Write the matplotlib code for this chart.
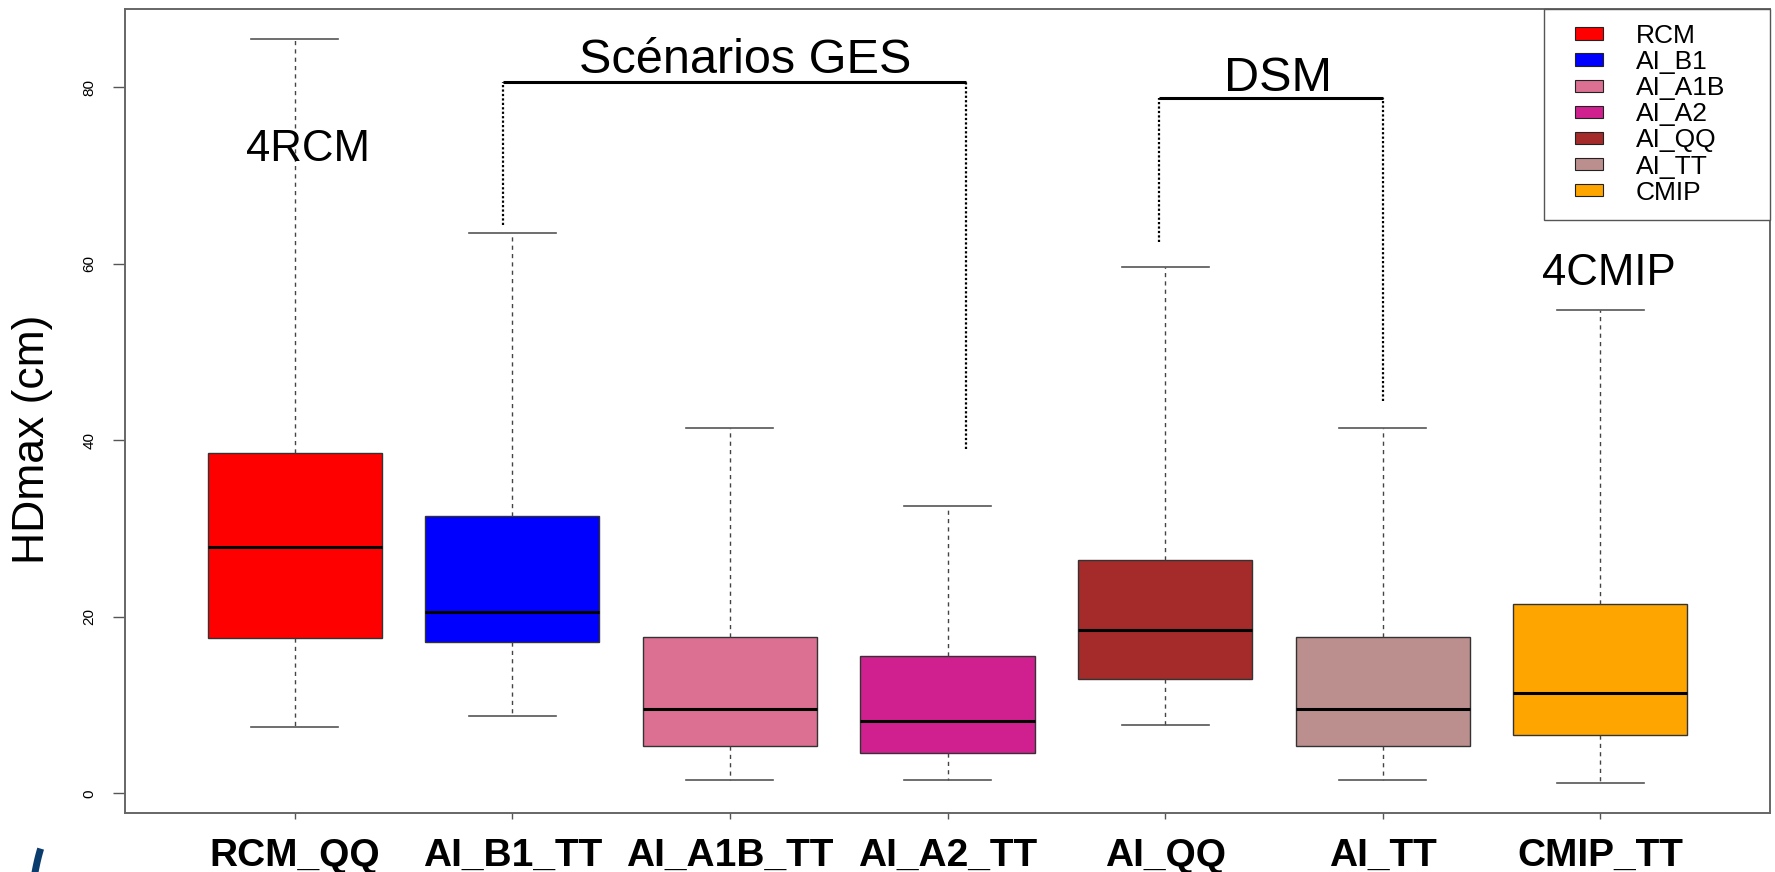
import numpy as np
import matplotlib
matplotlib.use("Agg")
import matplotlib.pyplot as plt
from matplotlib.patches import Patch, Rectangle
from matplotlib.lines import Line2D
from matplotlib.legend_handler import HandlerPatch

plt.rcParams["font.family"] = ["Liberation Sans", "DejaVu Sans"]

# Box-plot summaries of HDmax (cm) for each data set
categories = ["RCM_QQ", "AI_B1_TT", "AI_A1B_TT", "AI_A2_TT", "AI_QQ", "AI_TT", "CMIP_TT"]
whisker_low = [7.5, 8.8, 1.55, 1.47, 7.7, 1.54, 1.17]
quartile_1 = [17.6, 17.1, 5.4, 4.6, 12.9, 5.4, 6.6]
medians = [27.9, 20.5, 9.6, 8.15, 18.5, 9.6, 11.35]
quartile_3 = [38.6, 31.4, 17.75, 15.6, 26.4, 17.75, 21.4]
whisker_high = [85.5, 63.5, 41.4, 32.5, 59.6, 41.4, 54.8]

legend_labels = ["RCM", "AI_B1", "AI_A1B", "AI_A2", "AI_QQ", "AI_TT", "CMIP"]
box_colors = ["#FF0000", "#0000FF", "#DB7093", "#D02090", "#A52A2A", "#BC8F8F", "#FFA500"]

y_ticks = [0, 20, 40, 60, 80]

# Group brackets: (x left, x right, y top, y bottom left, y bottom right, label, label x, label y)
brackets = [
    (1.957, 4.085, 80.6, 64.4, 39.0, "Scénarios GES", 3.07, 81.6),
    (4.97, 6.0, 78.8, 62.5, 44.4, "DSM", 5.52, 79.6),
]
annotations = [("4RCM", 1.06, 71.6), ("4CMIP", 7.04, 57.6)]

W, H, DPI = 1775, 872, 100
fig = plt.figure(figsize=(W / DPI, H / DPI), dpi=DPI)
ax = fig.add_axes([125 / W, 1 - 812.7 / H, (1770 - 125) / W, (812.7 - 9) / H])

positions = list(range(1, len(categories) + 1))
stats = []
for i in range(len(categories)):
    stats.append(dict(med=medians[i], q1=quartile_1[i], q3=quartile_3[i],
                      whislo=whisker_low[i], whishi=whisker_high[i], fliers=[]))

edge = "#333333"
bp = ax.bxp(stats, positions=positions, widths=0.8, capwidths=0.4,
            patch_artist=True, showfliers=False,
            boxprops=dict(edgecolor=edge, linewidth=1.0),
            whiskerprops=dict(color="#444444", linewidth=1.0, linestyle=(0, (3, 3))),
            capprops=dict(color="#555555", linewidth=1.2),
            medianprops=dict(color="black", linewidth=2.2))
for patch, c in zip(bp["boxes"], box_colors):
    patch.set_facecolor(c)

# Axis ranges with a 4 % margin around the data, as in base R graphics
lo, hi = min(whisker_low), max(whisker_high)
pad = 0.04 * (hi - lo)
ax.set_ylim(lo - pad, hi + pad)
n = len(categories)
xpad = 0.04 * n
ax.set_xlim(0.5 - xpad, n + 0.5 + xpad)

ax.set_yticks(y_ticks)
ax.set_yticklabels([str(t) for t in y_ticks], rotation=90, va="center", fontsize=11)
ax.set_xticks(positions)
ax.set_xticklabels(categories, fontsize=28, fontweight="bold")
ax.tick_params(axis="y", length=8.6, width=1, color="#555555", pad=12)
ax.tick_params(axis="x", length=4.3, width=1, color="#555555", pad=14)
for s in ax.spines.values():
    s.set_color("#666666")
    s.set_linewidth(1.4)

# Group brackets and labels
for x0, x1, ytop, yl, yr, label, lx, ly in brackets:
    ax.plot([x0, x0], [yl, ytop], color="black", lw=1.6, linestyle=(0, (1, 1)))
    ax.plot([x1, x1], [yr, ytop], color="black", lw=1.6, linestyle=(0, (1, 1)))
    ax.plot([x0, x1], [ytop, ytop], color="black", lw=2.2, solid_capstyle="butt")
    ax.text(lx, ly, label, fontsize=35, ha="center", va="baseline")
for label, lx, ly in annotations:
    ax.text(lx, ly, label, fontsize=31.5, ha="center", va="baseline")


# Legend keys: a small filled rectangle, indented inside its key area
def key_rect(legend, orig_handle, xdescent, ydescent, width, height, fontsize):
    indent = 11.5
    return Rectangle((-xdescent + indent, -ydescent), width - indent, height)


handles = [Patch(facecolor=c, edgecolor="#222222", linewidth=0.8) for c in box_colors]
x0 = (1544 - 125) / (1770 - 125)
leg = ax.legend(handles, legend_labels, loc="upper right", mode="expand",
                bbox_to_anchor=(x0, 0, 1 - x0, 1), borderaxespad=0,
                fontsize=19, handlelength=1.67, handleheight=0.35,
                handletextpad=1.25, labelspacing=0.08, borderpad=0.57,
                fancybox=False, framealpha=1,
                handler_map={Patch: HandlerPatch(patch_func=key_rect)})
leg.get_frame().set_edgecolor("#555555")
leg.get_frame().set_linewidth(1.0)

fig.text(33 / W, 1 - 439 / H, "HDmax (cm)", rotation=90, ha="center", va="center",
         fontsize=32)

# Partial logo arc in the lower-left corner (pixel units converted to figure fraction)
t = np.radians(np.linspace(136, 185, 40))
arc_x = (68 + 38 * np.cos(t)) / W
arc_y = (-60 + 120 * np.sin(t)) / H
fig.add_artist(Line2D(arc_x, arc_y, transform=fig.transFigure, color="#0b3c6e",
                      lw=5, solid_capstyle="butt"))

fig.savefig("out.png", dpi=DPI)
